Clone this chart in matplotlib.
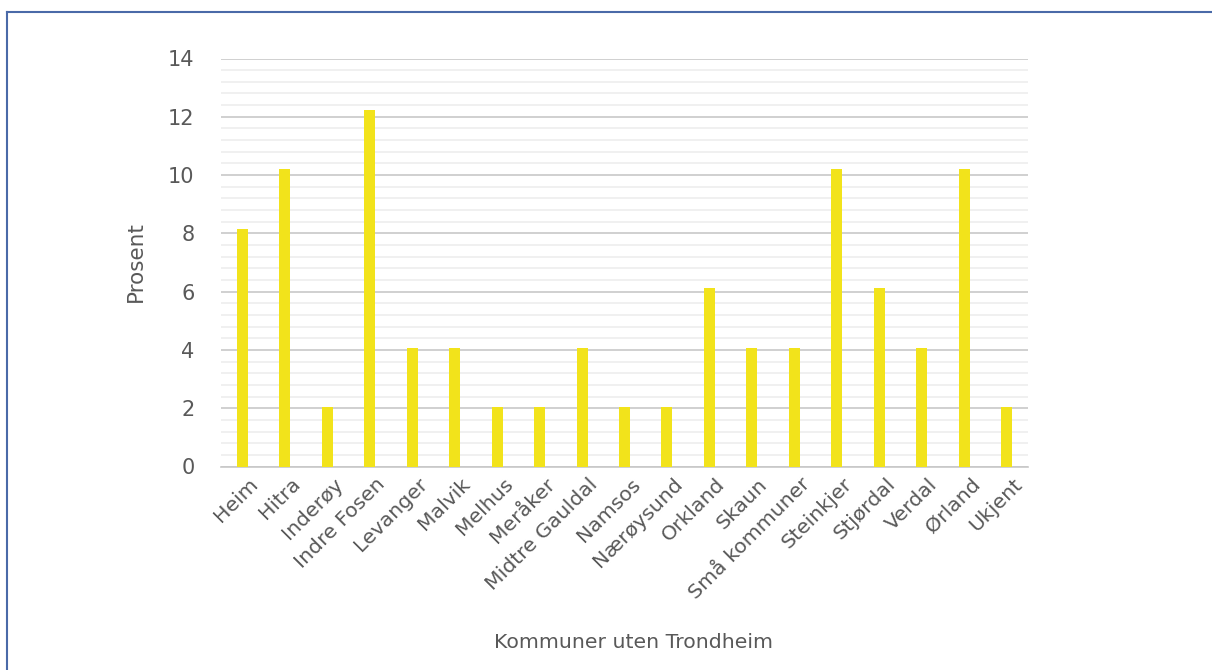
import matplotlib
matplotlib.use("Agg")
import matplotlib.pyplot as plt
from matplotlib.ticker import MultipleLocator
from matplotlib.lines import Line2D
from matplotlib.transforms import ScaledTranslation

# Data
kommuner = ["Heim", "Hitra", "Inderøy", "Indre Fosen", "Levanger", "Malvik",
            "Melhus", "Meråker", "Midtre Gauldal", "Namsos", "Nærøysund",
            "Orkland", "Skaun", "Små kommuner", "Steinkjer", "Stjørdal",
            "Verdal", "Ørland", "Ukjent"]
prosent = [8.16, 10.2, 2.04, 12.24, 4.08, 4.08, 2.04, 2.04, 4.08, 2.04, 2.04,
           6.12, 4.08, 4.08, 10.2, 6.12, 4.08, 10.2, 2.04]

txt = "#595959"
plt.rcParams['font.family'] = ['DejaVu Sans']

fig = plt.figure(figsize=(12.12, 6.7), dpi=100)
L, R, T, B = 221, 1028, 58.5, 466.5
ax = fig.add_axes([L/1212, 1 - B/670, (R-L)/1212, (B-T)/670])

x = list(range(len(kommuner)))
ax.bar(x, prosent, width=0.26, color="#f2e31b", zorder=3)

ax.set_xlim(-0.5, len(kommuner) - 0.5)
ax.set_ylim(0, 14)
ax.yaxis.set_major_locator(MultipleLocator(2))
ax.yaxis.set_minor_locator(MultipleLocator(0.4))
ax.grid(axis="y", which="major", color="#c8c8c8", linewidth=1.2, zorder=0)
ax.grid(axis="y", which="minor", color="#eeeeee", linewidth=1.2, zorder=0)

for s in ["top", "right", "left"]:
    ax.spines[s].set_visible(False)
ax.spines["bottom"].set_color("#c8c8c8")
ax.spines["bottom"].set_linewidth(1.2)

# category labels, rotated and nudged like the original
ax.set_xticks(x)
ax.set_xticklabels([])
ax.tick_params(axis="x", length=0)
shift = ScaledTranslation(6/100, -8/100, fig.dpi_scale_trans)
for xi, name in zip(x, kommuner):
    ax.text(xi, 0, name, rotation=45, ha="right", va="top",
            rotation_mode="anchor", fontsize=14.7, color=txt,
            transform=ax.get_xaxis_transform() + shift)

ax.tick_params(axis="y", which="both", length=0, pad=19, labelsize=15,
               labelcolor=txt)

ax.set_ylabel("Prosent", fontsize=15.5, color=txt)
ax.yaxis.set_label_coords(146/1212, 1 - 262/670, transform=fig.transFigure)
fig.text(634/1212, 1 - 642/670, "Kommuner uten Trondheim",
         ha="center", va="center", fontsize=14.7, color=txt)

# frame lines
fig.add_artist(Line2D([7/1212, 1], [1 - 12/670, 1 - 12/670],
                      color="#4a6aa8", linewidth=1.5, transform=fig.transFigure))
fig.add_artist(Line2D([7/1212, 7/1212], [0, 1 - 12/670],
                      color="#4a6aa8", linewidth=1.5, transform=fig.transFigure))

fig.savefig("out.png", dpi=100)
